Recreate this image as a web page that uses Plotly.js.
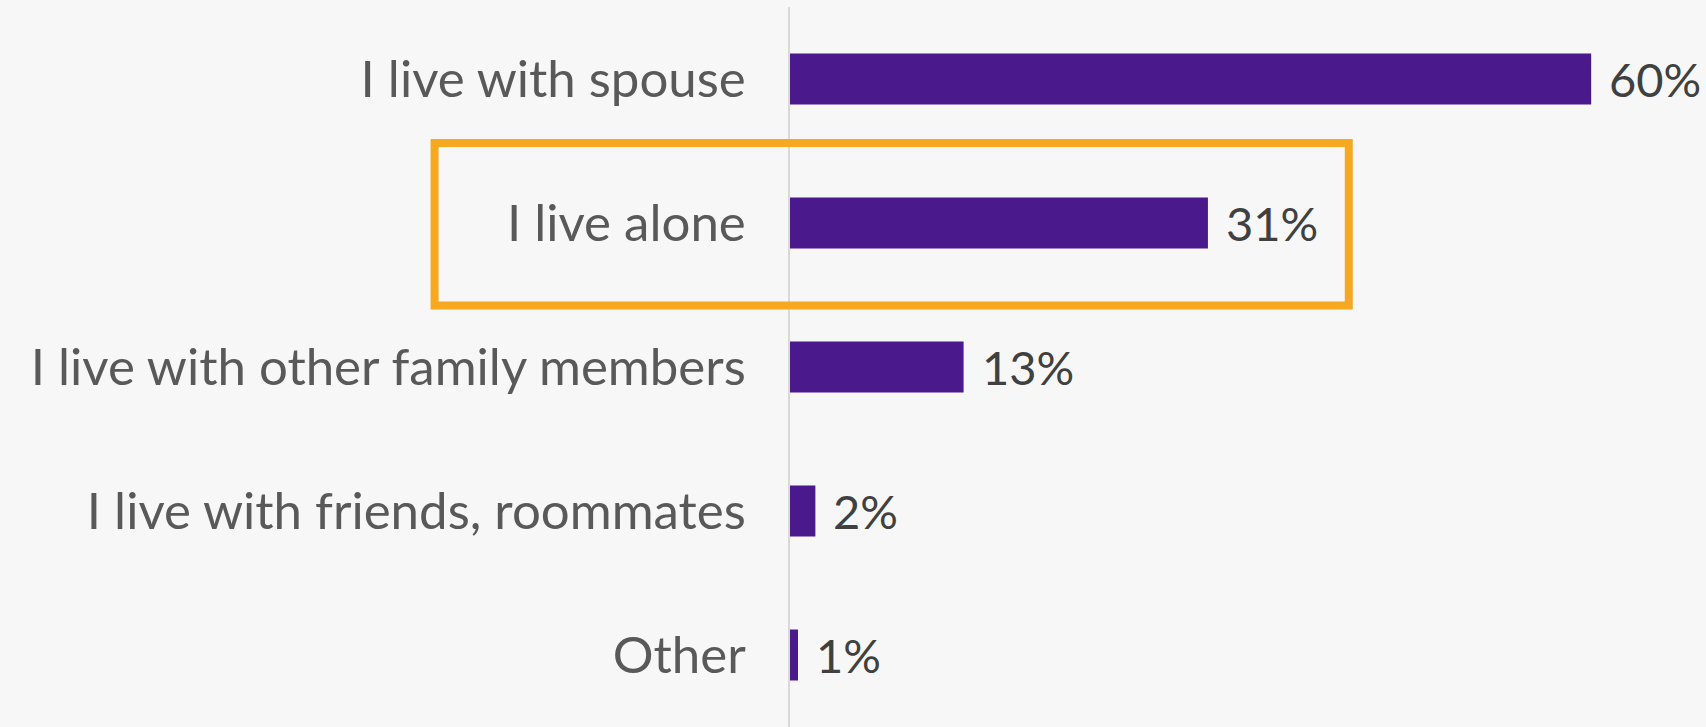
<!DOCTYPE html>
<html>
<head>
<meta charset="utf-8">
<script src="https://cdn.plot.ly/plotly-3.0.1.min.js"></script>
<style>
html,body{margin:0;padding:0;background:#f7f7f7;}
#chart{width:1706px;height:727px;}
</style>
</head>
<body>
<div id="chart"></div>
<script>
const categories = ["I live with spouse", "I live alone", "I live with other family members", "I live with friends, roommates", "Other"];
const values = [60, 31.3, 13, 1.9, 0.6];
const valueLabels = ["60%", "31%", "13%", "2%", "1%"];

const FONT = "Lato, 'Open Sans', sans-serif";

const trace = {
  type: "bar",
  orientation: "h",
  y: categories,
  x: values,
  marker: {color: "#4a198b"},
  width: 0.354,
  hoverinfo: "skip"
};

const annotations = categories.map((c, i) => ({
  x: values[i], y: c, xref: "x", yref: "y",
  text: valueLabels[i], showarrow: false,
  xanchor: "left", yanchor: "middle", xshift: 16,
  font: {family: FONT, size: 47, color: "#404040"}
}));

const layout = {
  width: 1706, height: 727,
  margin: {l: 790, r: 0, t: 7, b: 0, pad: 0},
  paper_bgcolor: "#f7f7f7",
  plot_bgcolor: "#f7f7f7",
  showlegend: false,
  xaxis: {range: [0, 68.6], visible: false, fixedrange: true},
  yaxis: {
    autorange: "reversed",
    showline: true, linecolor: "#d9d9d9", linewidth: 2,
    showgrid: false, zeroline: false, ticks: "",
    ticklabelstandoff: 32,
    tickfont: {family: FONT, size: 51, color: "#595959"}
  },
  annotations: annotations,
  shapes: [{
    type: "rect", xref: "paper", yref: "paper",
    x0: -0.388, x1: 0.610, y0: 0.5854, y1: 0.811,
    line: {color: "#f5a820", width: 8},
    fillcolor: "rgba(0,0,0,0)"
  }]
};

Plotly.newPlot("chart", [trace], layout, {displayModeBar: false, staticPlot: true});
</script>
</body>
</html>
